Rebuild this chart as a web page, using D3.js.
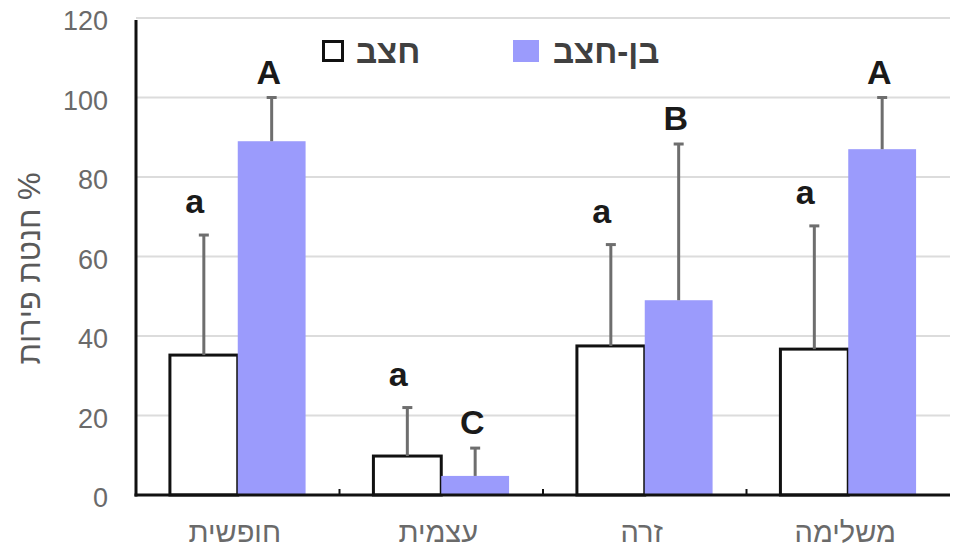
<!DOCTYPE html>
<html>
<head>
<meta charset="utf-8">
<script src="https://cdn.jsdelivr.net/npm/d3@7"></script>
<style>
  html, body { margin: 0; padding: 0; background: #fff; }
  text { font-family: "Liberation Sans", Arial, sans-serif; }
</style>
</head>
<body>
<div id="chart"></div>
<script>
// categories (left to right) and series
const categories = ['חופשית', 'עצמית', 'זרה', 'משלימה'];
const seriesNames = ['חצב', 'בן-חצב'];
const hatzavValues = [35.2, 9.8, 37.5, 36.7];
const hatzavErrors = [30.2, 12.2, 25.5, 31.0];
const hatzavLetters = ['a', 'a', 'a', 'a'];
const benHatzavValues = [89, 4.8, 49, 87];
const benHatzavErrors = [11, 7, 39.3, 13];
const benHatzavLetters = ['A', 'C', 'B', 'A'];
const yTicks = [0, 20, 40, 60, 80, 100, 120];

const width = 958, height = 549;
const margin = { top: 18, right: 8, bottom: 54, left: 136 };

const svg = d3.select('#chart').append('svg')
    .attr('width', width)
    .attr('height', height);

const x = d3.scaleBand()
    .domain(categories)
    .range([margin.left, width - margin.right])
    .paddingInner(0)
    .paddingOuter(0);

const inner = d3.scaleBand()
    .domain([0, 1])
    .range([0, x.bandwidth()])
    .paddingOuter(0.5)
    .paddingInner(0);

const y = d3.scaleLinear()
    .domain([0, 120])
    .range([height - margin.bottom, margin.top]);

// gridlines
svg.append('g')
    .selectAll('line')
    .data(yTicks.filter(d => d > 0))
    .join('line')
    .attr('x1', margin.left)
    .attr('x2', width - margin.right)
    .attr('y1', d => y(d))
    .attr('y2', d => y(d))
    .attr('stroke', '#dcdcdc')
    .attr('stroke-width', 2);

// y tick labels
svg.append('g')
    .selectAll('text')
    .data(yTicks)
    .join('text')
    .attr('x', 108)
    .attr('y', d => y(d) + 3)
    .attr('dy', '0.35em')
    .attr('text-anchor', 'end')
    .attr('font-size', 27)
    .attr('fill', '#6a6a6a')
    .text(d => d);

// y axis title
svg.append('text')
    .attr('transform', `translate(40, ${y(57)}) rotate(-90)`)
    .attr('direction', 'rtl')
    .attr('text-anchor', 'middle')
    .attr('font-size', 31)
    .attr('fill', '#5a5a5a')
    .text('% חנטת פירות');

const series = [
    { values: hatzavValues, errors: hatzavErrors, letters: hatzavLetters },
    { values: benHatzavValues, errors: benHatzavErrors, letters: benHatzavLetters }
];

// bars
const bars = svg.append('g');
series.forEach((s, si) => {
    bars.selectAll(null)
        .data(categories)
        .join('rect')
        .attr('x', c => x(c) + inner(si))
        .attr('y', (c, i) => y(s.values[i]))
        .attr('width', inner.bandwidth())
        .attr('height', (c, i) => y(0) - y(s.values[i]))
        .attr('fill', si === 0 ? '#ffffff' : '#9b9bfc')
        .attr('stroke', si === 0 ? '#111' : 'none')
        .attr('stroke-width', 3);
});

// error bars
const err = svg.append('g').attr('stroke', '#6e6e6e').attr('stroke-width', 3);
series.forEach((s, si) => {
    const cx = c => x(c) + inner(si) + inner.bandwidth() / 2;
    err.selectAll(null)
        .data(categories)
        .join('line')
        .attr('x1', cx)
        .attr('x2', cx)
        .attr('y1', (c, i) => y(s.values[i]))
        .attr('y2', (c, i) => y(s.values[i] + s.errors[i]));
    err.selectAll(null)
        .data(categories)
        .join('line')
        .attr('x1', c => cx(c) - 5)
        .attr('x2', c => cx(c) + 5)
        .attr('y1', (c, i) => y(s.values[i] + s.errors[i]))
        .attr('y2', (c, i) => y(s.values[i] + s.errors[i]));
});

// significance letters
series.forEach((s, si) => {
    svg.append('g')
        .selectAll('text')
        .data(categories)
        .join('text')
        .attr('x', c => x(c) + inner(si) + inner.bandwidth() / 2 - (si === 0 ? 9 : 3))
        .attr('y', (c, i) => y(s.values[i] + s.errors[i]) - (si === 0 ? 22 : 14))
        .attr('text-anchor', 'middle')
        .attr('font-size', 34)
        .attr('font-weight', 'bold')
        .attr('fill', '#1a1a1a')
        .text((c, i) => s.letters[i]);
});

// axes lines
svg.append('line')
    .attr('x1', margin.left).attr('x2', margin.left)
    .attr('y1', y(120) + 2).attr('y2', y(0) + 1.5)
    .attr('stroke', '#111').attr('stroke-width', 3);
svg.append('line')
    .attr('x1', margin.left - 1.5).attr('x2', width - margin.right)
    .attr('y1', y(0)).attr('y2', y(0))
    .attr('stroke', '#111').attr('stroke-width', 3);

// category boundary ticks
svg.append('g')
    .selectAll('line')
    .data(categories.slice(1))
    .join('line')
    .attr('x1', c => x(c)).attr('x2', c => x(c))
    .attr('y1', y(0) - 6).attr('y2', y(0))
    .attr('stroke', '#111').attr('stroke-width', 2);

// x labels
svg.append('g')
    .selectAll('text')
    .data(categories)
    .join('text')
    .attr('x', c => x(c) + x.bandwidth() / 2 - 3)
    .attr('y', 542)
    .attr('text-anchor', 'middle')
    .attr('font-size', 29)
    .attr('fill', '#6a6a6a')
    .text(d => d);

// legend
const legend = svg.append('g');
const legendX = [322, 513];
seriesNames.forEach((name, i) => {
    const g = legend.append('g').attr('transform', `translate(${legendX[i]}, 40)`);
    g.append('rect')
        .attr('x', i === 0 ? 1.5 : 0)
        .attr('y', i === 0 ? 1.5 : 0)
        .attr('width', i === 0 ? 19 : 26)
        .attr('height', i === 0 ? 19 : 22)
        .attr('fill', i === 0 ? '#fff' : '#9b9bfc')
        .attr('stroke', i === 0 ? '#111' : 'none')
        .attr('stroke-width', 3);
    g.append('text')
        .attr('x', i === 0 ? 34 : 40)
        .attr('y', 11)
        .attr('dy', '0.35em')
        .attr('font-size', 33)
        .attr('font-weight', 'bold')
        .attr('fill', '#404040')
        .text(name);
});
</script>
</body>
</html>
